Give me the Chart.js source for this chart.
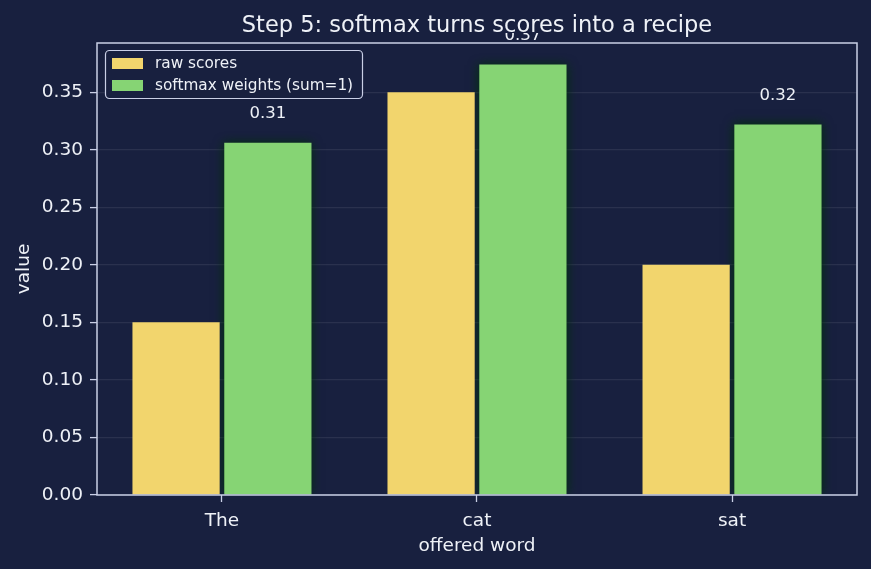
<!DOCTYPE html>
<html><head><meta charset="utf-8">
<script src="https://cdn.jsdelivr.net/npm/chart.js@4.4.1/dist/chart.umd.min.js"></script>
<style>html,body{margin:0;padding:0;background:#18203f;}#wrap{width:871px;height:569px;}canvas{display:block;}</style>
</head><body><div id="wrap"><canvas id="c" width="871" height="569"></canvas></div>
<script>
const categories = ['The', 'cat', 'sat'];
const rawScores = [0.15, 0.35, 0.20];
const softmaxWeights = [0.306, 0.374, 0.322];
const weightLabels = ['0.31', '0.37', '0.32'];
const yTickValues = [0, 0.05, 0.10, 0.15, 0.20, 0.25, 0.30, 0.35];
const seriesNames = ['raw scores', 'softmax weights (sum=1)'];
const chartTitle = 'Step 5: softmax turns scores into a recipe';
const xTitle = 'offered word';
const yTitle = 'value';

const BG = '#18203f';
const FG = '#eef1f7';
const SPINE = '#c9cfe6';
const YELLOW = '#f2d56d';
const GREEN = '#86d474';
const FONT = "'DejaVu Sans', sans-serif";

const decor = {
  id: 'decor',
  beforeDatasetDraw(chart, args) {
    if (args.index === 1) {
      const ctx = chart.ctx;
      ctx.save();
      ctx.shadowColor = 'rgba(0,50,10,1)';
      ctx.shadowBlur = 10;
    }
  },
  afterDatasetDraw(chart, args) {
    if (args.index === 1) chart.ctx.restore();
  },
  afterDatasetsDraw(chart) {
    const ctx = chart.ctx;
    const a = chart.chartArea;
    // value labels above softmax bars
    ctx.save();
    ctx.beginPath();
    ctx.rect(0, 33, chart.width, chart.height);
    ctx.clip();
    ctx.font = '16.5px ' + FONT;
    ctx.fillStyle = FG;
    ctx.textAlign = 'center';
    ctx.textBaseline = 'middle';
    chart.getDatasetMeta(1).data.forEach((el, i) => {
      ctx.fillText(weightLabels[i], el.x, el.y - 29);
    });
    ctx.restore();
    // spines
    ctx.save();
    ctx.strokeStyle = SPINE;
    ctx.lineWidth = 1.5;
    ctx.strokeRect(a.left, a.top, a.right - a.left, a.bottom - a.top);
    ctx.restore();
    // legend
    ctx.save();
    const lx = 105.5, ly = 50.5, lw = 257, lh = 48;
    ctx.beginPath();
    ctx.roundRect(lx, ly, lw, lh, 4);
    ctx.fillStyle = BG;
    ctx.fill();
    ctx.strokeStyle = SPINE;
    ctx.lineWidth = 1.2;
    ctx.stroke();
    const cols = [YELLOW, GREEN];
    ctx.font = '15.3px ' + FONT;
    ctx.textBaseline = 'middle';
    ctx.textAlign = 'left';
    seriesNames.forEach((n, i) => {
      const y = 58 + i * 22;
      ctx.fillStyle = cols[i];
      ctx.fillRect(112, y, 31, 11);
      ctx.fillStyle = FG;
      ctx.fillText(n, 155, y + 6);
    });
    ctx.restore();
    // title
    ctx.save();
    ctx.font = '22.5px ' + FONT;
    ctx.fillStyle = FG;
    ctx.textAlign = 'center';
    ctx.textBaseline = 'alphabetic';
    ctx.fillText(chartTitle, (a.left + a.right) / 2, 31.5);
    ctx.restore();
  }
};

new Chart(document.getElementById('c'), {
  type: 'bar',
  data: {
    datasets: [
      { label: seriesNames[0], data: rawScores.map((v, i) => ({x: i, y: v})), backgroundColor: YELLOW, borderWidth: 0 },
      { label: seriesNames[1], data: softmaxWeights.map((v, i) => ({x: i, y: v})), backgroundColor: GREEN, borderWidth: 0 }
    ]
  },
  options: {
    responsive: false,
    animation: false,
    devicePixelRatio: 1,
    categoryPercentage: 0.72,
    barPercentage: 0.95,
    layout: { padding: { left: 0, right: 14, top: 43, bottom: 0 } },
    plugins: { legend: { display: false }, title: { display: false }, tooltip: { enabled: false } },
    scales: {
      x: {
        type: 'linear',
        min: -0.49, max: 2.49,
        offset: false,
        afterBuildTicks(scale) { scale.ticks = categories.map((c, i) => ({ value: i })); },
        afterFit(scale) { scale.height = 74; },
        ticks: {
          color: FG, font: { family: FONT, size: 18.5 }, padding: 8,
          maxRotation: 0, autoSkip: false,
          callback: (v) => categories[Math.round(v)]
        },
        grid: { offset: false, drawOnChartArea: false, drawTicks: true, tickLength: 7, tickColor: SPINE, tickWidth: 1.3 },
        border: { display: false },
        title: { display: true, text: xTitle, color: FG, font: { family: FONT, size: 18.5, lineHeight: 1.2 }, padding: { top: 0, bottom: 11.7 } }
      },
      y: {
        min: 0, max: 0.3927,
        afterBuildTicks(scale) { scale.ticks = yTickValues.map(v => ({ value: v })); },
        afterFit(scale) { scale.width = 97; },
        ticks: { color: FG, font: { family: FONT, size: 18.5 }, padding: 7, callback: (v) => Number(v).toFixed(2) },
        grid: { color: 'rgba(255,255,255,0.08)', lineWidth: 1.2, drawTicks: true, tickLength: 7, tickColor: SPINE, tickWidth: 1.3 },
        border: { display: false },
        title: { display: true, text: yTitle, color: FG, font: { family: FONT, size: 18.5, lineHeight: 1.2 }, padding: { top: 13.5, bottom: 0 } }
      }
    }
  },
  plugins: [decor]
});
</script>
</body></html>
